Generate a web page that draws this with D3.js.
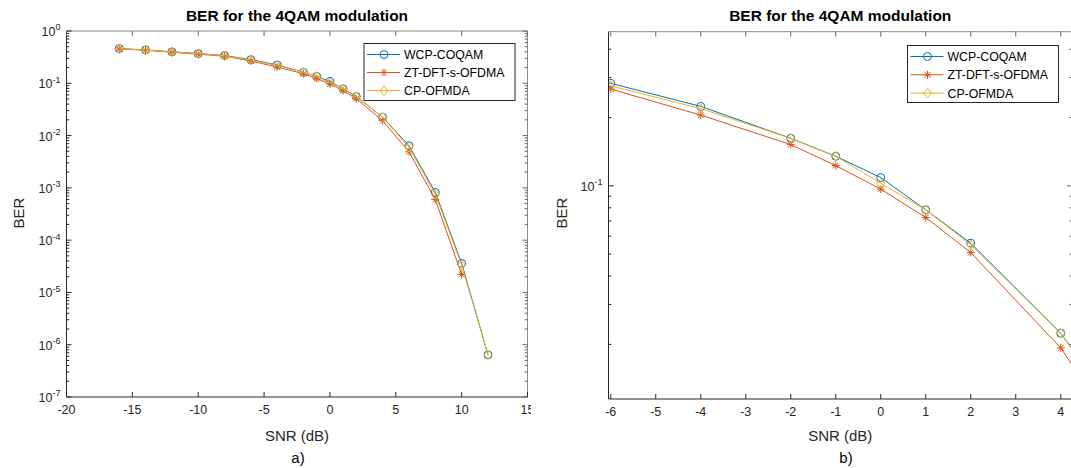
<!DOCTYPE html>
<html><head><meta charset="utf-8">
<script src="https://cdn.jsdelivr.net/npm/d3@7"></script>
<style>
html,body{margin:0;padding:0;background:#fff;}
svg{display:block;font-family:"Liberation Sans",Arial,sans-serif;}
</style></head>
<body>
<svg id="chart" width="1071" height="468"></svg>
<script>
// ---- data ----
const snr = [-16,-14,-12,-10,-8,-6,-4,-2,-1,0,1,2,4,6,8,10,12];
const wcpCoqam = [0.46,0.435,0.40,0.37,0.34,0.283,0.224,0.162,0.135,0.1088,0.0784,0.0559,0.0224,0.0064,0.00082,3.6e-5,6.4e-7];
const ztDftSOfdma = [0.455,0.428,0.392,0.36,0.33,0.267,0.205,0.152,0.1228,0.0967,0.0725,0.0508,0.0193,0.0049,0.0006,2.2e-5,null];
const cpOfmda = [0.458,0.432,0.398,0.368,0.337,0.276,0.219,0.162,0.135,0.1027,0.0784,0.055,0.0224,0.006,0.00075,3.35e-5,6.4e-7];
const seriesNames = ["WCP-COQAM","ZT-DFT-s-OFDMA","CP-OFMDA"];
const seriesColors = ["#0072BD","#D95319","#EDB120"];
const seriesMarkers = ["circle","asterisk","diamond"];
const titleText = "BER for the 4QAM modulation";
const xTicksA = [-20,-15,-10,-5,0,5,10,15];
const yExpA = [0,-1,-2,-3,-4,-5,-6,-7];
const xTicksB = [-6,-5,-4,-3,-2,-1,0,1,2,3,4];
const yExpB = [-1];
const minorB = [0.02,0.03,0.04,0.05,0.06,0.07,0.08,0.09,0.2,0.3,0.4];

const svg = d3.select("#chart");
const defs = svg.append("defs");
const allSeries = [wcpCoqam, ztDftSOfdma, cpOfmda];
const AX = "#262626";

function drawMarker(g, type, x, y, color){
  if(type==="circle"){
    g.append("circle").attr("cx",x).attr("cy",y).attr("r",4).attr("fill","none").attr("stroke",color).attr("stroke-width",1);
  } else if(type==="diamond"){
    const s=4.8;
    g.append("path").attr("d",`M${x},${y-s}L${x+s*0.8},${y}L${x},${y+s}L${x-s*0.8},${y}Z`).attr("fill","none").attr("stroke",color).attr("stroke-width",1);
  } else {
    const s=4, d=s*0.72;
    g.append("path").attr("d",`M${x-s},${y}H${x+s}M${x},${y-s}V${y+s}M${x-d},${y-d}L${x+d},${y+d}M${x-d},${y+d}L${x+d},${y-d}`).attr("stroke",color).attr("stroke-width",1).attr("fill","none");
  }
}

function supLabel(g, x, y, base, exp, size, anchor){
  const t = g.append("text").attr("x",x).attr("y",y).attr("text-anchor",anchor).attr("fill",AX).attr("font-size",size);
  t.append("tspan").text(base);
  t.append("tspan").attr("dy",-size*0.45).attr("font-size",size*0.72).text(exp);
  return t;
}

function panel(cfg){
  const {x, y, id} = cfg;
  const [x0,x1] = x.range(), [y0,y1] = y.range(); // y0 bottom, y1 top
  defs.append("clipPath").attr("id","fig"+id).append("rect")
    .attr("x",cfg.fig[0]).attr("y",0).attr("width",cfg.fig[1]-cfg.fig[0]).attr("height",468);
  const g = svg.append("g").attr("clip-path",`url(#fig${id})`);
  const clipId = "clip"+id;
  defs.append("clipPath").attr("id",clipId).append("rect")
    .attr("x",x0).attr("y",y1).attr("width",x1-x0).attr("height",y0-y1);

  // data
  const dg = g.append("g").attr("clip-path",`url(#${clipId})`);
  allSeries.forEach((vals,i)=>{
    const pts = snr.map((s,k)=>[s,vals[k]]).filter(p=>p[1]!=null);
    const line = d3.line().x(p=>x(p[0])).y(p=>y(p[1]));
    dg.append("path").attr("d",line(pts)).attr("fill","none").attr("stroke",seriesColors[i]).attr("stroke-width",1);
    pts.forEach(p=>drawMarker(dg, seriesMarkers[i], x(p[0]), y(p[1]), seriesColors[i]));
  });

  // box
  const tl = 5, tlm = 2.8;
  g.append("line").attr("x1",x0).attr("x2",x1).attr("y1",y1).attr("y2",y1).attr("stroke","#8a8a8a");
  g.append("line").attr("x1",x1).attr("x2",x1).attr("y1",y1).attr("y2",y0).attr("stroke","#8a8a8a");
  g.append("line").attr("x1",x0).attr("x2",x1).attr("y1",y0).attr("y2",y0).attr("stroke",AX);
  g.append("line").attr("x1",x0).attr("x2",x0).attr("y1",y1).attr("y2",y0).attr("stroke",AX);

  // x ticks
  cfg.xTicks.forEach(v=>{
    const px = x(v);
    g.append("line").attr("x1",px).attr("x2",px).attr("y1",y0).attr("y2",y0-tl).attr("stroke",AX);
    g.append("line").attr("x1",px).attr("x2",px).attr("y1",y1).attr("y2",y1+tl).attr("stroke","#666");
    g.append("text").attr("x",px).attr("y",y0+17).attr("text-anchor","middle").attr("fill",AX).attr("font-size",12.5).text(v);
  });
  // y major ticks
  cfg.yExp.forEach(e=>{
    const py = y(Math.pow(10,e));
    g.append("line").attr("x1",x0).attr("x2",x0+tl).attr("y1",py).attr("y2",py).attr("stroke",AX);
    g.append("line").attr("x1",x1).attr("x2",x1-tl).attr("y1",py).attr("y2",py).attr("stroke","#666");
    supLabel(g, x0-6, py+5, "10", String(e), 12.5, "end");
  });
  // y minor ticks
  cfg.minor.forEach(v=>{
    const py = y(v);
    g.append("line").attr("x1",x0).attr("x2",x0+tlm).attr("y1",py).attr("y2",py).attr("stroke",AX);
    g.append("line").attr("x1",x1).attr("x2",x1-tlm).attr("y1",py).attr("y2",py).attr("stroke","#666");
  });

  // title and labels
  const cx = (x0+x1)/2;
  g.append("text").attr("x",cx).attr("y",21).attr("text-anchor","middle").attr("font-weight","bold").attr("font-size",15.5).attr("fill","#000").text(titleText);
  g.append("text").attr("x",cx).attr("y",441).attr("text-anchor","middle").attr("font-size",15).attr("fill",AX).text("SNR (dB)");
  g.append("text").attr("x",cfg.subX).attr("y",463).attr("text-anchor","middle").attr("font-size",15).attr("fill","#000").text(cfg.sub);
  g.append("text").attr("transform",`translate(${cfg.berX},213) rotate(-90)`).attr("text-anchor","middle").attr("font-size",15).attr("fill",AX).text("BER");

  // legend
  const L = cfg.legend;
  const lg = g.append("g");
  lg.append("rect").attr("x",L.x).attr("y",L.y).attr("width",L.w).attr("height",L.h).attr("fill","#fff").attr("stroke",AX).attr("stroke-width",1);
  seriesNames.forEach((n,i)=>{
    const ly = L.y + 11 + i*L.step;
    lg.append("line").attr("x1",L.x+3).attr("x2",L.x+36).attr("y1",ly).attr("y2",ly).attr("stroke",seriesColors[i]).attr("stroke-width",1);
    drawMarker(lg, seriesMarkers[i], L.x+20, ly, seriesColors[i]);
    lg.append("text").attr("x",L.x+40).attr("y",ly+4.5).attr("font-size",12.3).attr("fill","#000").text(n);
  });
}

// left panel a)
const xA = d3.scaleLinear().domain([-20,15]).range([66.5,527.5]);
const yA = d3.scaleLog().domain([1e-7,1]).range([397,31]);
const minorA = [];
yExpA.slice(1).forEach(e=>{ for(let m=2;m<=9;m++) minorA.push(m*Math.pow(10,e)); });
panel({id:"A", x:xA, y:yA, xTicks:xTicksA, yExp:yExpA, minor:minorA, sub:"a)", subX:298, berX:24,
  fig:[0,531], legend:{x:364,y:43.5,w:151,h:57,step:18}});

// right panel b)
const xB = d3.scaleLinear().domain([-6.05,4.25]).range([608.5,1072]);
const yB = d3.scaleLog().domain([0.01149,0.478]).range([399,31.7]);
panel({id:"B", x:xB, y:yB, xTicks:xTicksB, yExp:yExpB, minor:minorB, sub:"b)", subX:846, berX:567,
  fig:[531,1071], legend:{x:907.5,y:45.5,w:151,h:57,step:18.3}});
</script>
</body></html>
